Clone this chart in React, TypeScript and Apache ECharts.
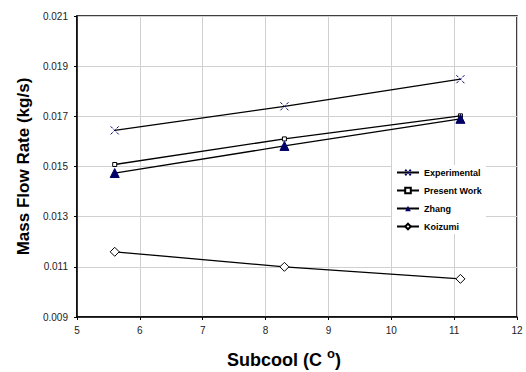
import React, { useEffect, useRef } from "react";
import * as echarts from "echarts";

const subcool = [5.6, 8.3, 11.1];
const experimental = [0.01644, 0.0174, 0.01848];
const presentWork = [0.01508, 0.0161, 0.01702];
const zhang = [0.01474, 0.01582, 0.0169];
const koizumi = [0.0116, 0.011, 0.01052];
const seriesNames = ["Experimental", "Present Work", "Zhang", "Koizumi"];

const xPath = "path://M0,0L2,2M8,0L6,2M0,8L2,6M8,8L6,6M3,3L5,5M5,3L3,5";

export default function App() {
  const ref = useRef<HTMLDivElement>(null);
  useEffect(() => {
    const chart = echarts.init(ref.current!, null, { renderer: "svg" });
    const mk = (vals: number[]) => subcool.map((x, i) => [x, vals[i]]);
    const lineStyle = { color: "#000", width: 1.3 };
    chart.setOption({
      animation: false,
      grid: {
        left: 77, right: 9, top: 16, bottom: 55,
        show: true, borderColor: "#000", borderWidth: 1.5,
        outerBoundsMode: "none",
        containLabel: false,
      },
      xAxis: {
        type: "value", min: 5, max: 12, interval: 1,
        axisLine: { show: true, lineStyle: { color: "#000", width: 1.5 } },
        axisTick: { show: true, length: 3, lineStyle: { color: "#000" } },
        axisLabel: { color: "#222", fontSize: 10, fontFamily: "Arial, Liberation Sans", margin: 8 },
        splitLine: { show: true, lineStyle: { color: "#d0d0d0", width: 1 } },
        name: "Subcool (C {sup|o})",
        nameLocation: "middle",
        nameGap: 30,
        nameTextStyle: {
          fontSize: 18, fontWeight: "bold", color: "#000", fontFamily: "Arial, Liberation Sans",
          padding: [0, 26, 0, 0],
          rich: { sup: { fontSize: 13, fontWeight: "bold", verticalAlign: "top", padding: [0, 0, 12, 0] } },
        },
      },
      yAxis: {
        type: "value", min: 0.009, max: 0.021, interval: 0.002,
        axisLine: { show: true, lineStyle: { color: "#000", width: 1.5 } },
        axisTick: { show: true, length: 3, lineStyle: { color: "#000" } },
        axisLabel: {
          color: "#222", fontSize: 10, fontFamily: "Arial, Liberation Sans", margin: 9,
          formatter: (v: number) => v.toFixed(3),
        },
        splitLine: { show: true, lineStyle: { color: "#d0d0d0", width: 1 } },
        name: "Mass Flow Rate (kg/s)",
        nameLocation: "middle",
        nameGap: 45,
        nameTextStyle: { fontSize: 17, fontWeight: "bold", color: "#000", fontFamily: "Arial, Liberation Sans" },
      },
      legend: {
        orient: "vertical",
        left: 392, top: 165,
        padding: [3, 4, 3, 4],
        backgroundColor: "#fff",
        itemWidth: 22, itemHeight: 7, itemGap: 9,
        textStyle: { fontSize: 9, fontWeight: "bold", color: "#000", fontFamily: "Arial, Liberation Sans" },
        data: seriesNames,
      },
      series: [
        {
          name: seriesNames[0], type: "line", data: mk(experimental),
          symbol: xPath, symbolSize: 8,
          itemStyle: { color: "transparent", borderColor: "#000066", borderWidth: 1 },
          lineStyle,
        },
        {
          name: seriesNames[1], type: "line", data: mk(presentWork),
          symbol: "rect", symbolSize: 4,
          itemStyle: { color: "#fff", borderColor: "#000", borderWidth: 1 },
          lineStyle,
        },
        {
          name: seriesNames[2], type: "line", data: mk(zhang),
          symbol: "triangle", symbolSize: 9,
          itemStyle: { color: "#000066", borderColor: "#000066" },
          lineStyle,
        },
        {
          name: seriesNames[3], type: "line", data: mk(koizumi),
          symbol: "diamond", symbolSize: 9,
          itemStyle: { color: "#fff", borderColor: "#000", borderWidth: 1 },
          lineStyle,
        },
      ],
    });
    return () => chart.dispose();
  }, []);
  return (
    <div
      ref={ref}
      style={{ position: "fixed", left: 0, top: 0, width: 526, height: 372, background: "#fff" }}
    />
  );
}
